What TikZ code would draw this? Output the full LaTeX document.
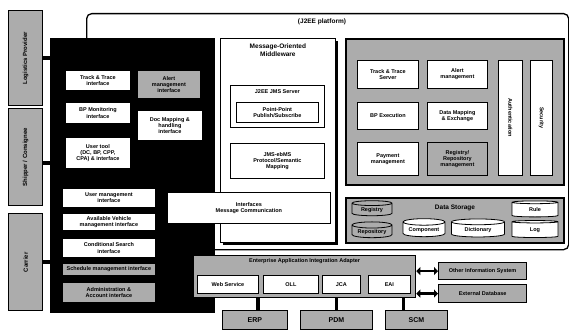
\documentclass[tikz,border=0pt]{standalone}
\usepackage{fontspec}
\setmainfont{Liberation Sans}
\usetikzlibrary{arrows.meta,positioning,calc,shapes.geometric,shadows}

\begin{document}
\begin{tikzpicture}[
    x=1pt, y=-1pt,
    every node/.style={font=\fontsize{5.5}{6.3}\selectfont\bfseries, align=center, inner sep=1pt},
    wbox/.style={draw, thick, fill=white, anchor=north west},
    gbox/.style={draw, thick, fill=gray!65, anchor=north west},
    panel/.style={draw, line width=1.6pt, fill=gray!65, anchor=north west},
    actor/.style={draw, line width=1.4pt, fill=gray!65, anchor=north west, minimum width=34pt},
    dstore/.style={shape=cylinder, shape border rotate=90, aspect=0.2, draw, thick, fill=white},
    stub/.style={line width=4pt},
    stem/.style={line width=3.5pt},
    dblarrow/.style={line width=2.5pt, {Triangle[length=4pt,width=8pt]}-{Triangle[length=4pt,width=8pt]}},
]
  \useasboundingbox (0,0) rectangle (569,331);

  % J2EE platform frame
  \node[draw, line width=1.3pt, rounded corners=5pt, anchor=north west, minimum width=482pt, minimum height=236pt] (platform) at (86,13) {};
  \node[font=\fontsize{6.5}{7.5}\selectfont\bfseries] (platt) at (322,22) {(J2EE platform)};

  % client side (black panel)
  \node[fill=black, anchor=north west, minimum width=165pt, minimum height=275pt, inner sep=0pt] (client) at (50,38) {};
  \node[wbox, minimum width=65pt, minimum height=20pt] (tti) at (65,70) {Track \& Trace\\interface};
  \node[gbox, minimum width=63pt, minimum height=28pt] (ami) at (137,70) {Alert\\management\\interface};
  \node[wbox, minimum width=65pt, minimum height=21pt] (bpm) at (65,102) {BP Monitoring\\interface};
  \node[wbox, minimum width=65pt, minimum height=30pt] (dmi) at (137,110) {Doc Mapping \&\\handling\\interface};
  \node[wbox, minimum width=65pt, minimum height=31pt] (uti) at (65,137) {User tool\\(DC, BP, CPP,\\CPA) \& interface};
  \node[wbox, minimum width=93pt, minimum height=19pt] (umi) at (62,188) {User management\\interface};
  \node[wbox, minimum width=93pt, minimum height=17pt] (avi) at (62,213) {Available Vehicle\\management interface};
  \node[wbox, minimum width=93pt, minimum height=19pt] (csi) at (62,238) {Conditional Search\\interface};
  \node[gbox, minimum width=93pt, minimum height=12pt] (sch) at (62,263) {Schedule management interface};
  \node[gbox, minimum width=93pt, minimum height=20pt] (adm) at (62,282) {Administration \&\\Account interface};

  % actors (left)
  \node[actor, minimum height=95pt] (lsp) at (8,10) {};
  \node[rotate=90, font=\fontsize{6}{7}\selectfont\bfseries] (lspt) at (lsp.center) {Logistics Provider};
  \node[actor, minimum height=97pt] (shp) at (8,108) {};
  \node[rotate=90, font=\fontsize{6}{7}\selectfont\bfseries] (shpt) at (shp.center) {Shipper / Consignee};
  \node[actor, minimum height=97pt] (car) at (8,213) {};
  \node[rotate=90, font=\fontsize{6}{7}\selectfont\bfseries] (cart) at (car.center) {Carrier};
  \draw[stub] (lsp) -- (lsp -| client.west);
  \draw[stub] ([yshift=-6pt]shp.east) -- ([yshift=-6pt]shp.east -| client.west);
  \draw[stub] (car) -- (car -| client.west);

  % message-oriented middleware
  \node[draw, thick, fill=white, anchor=north west, minimum width=115pt, minimum height=204pt,
        drop shadow={shadow xshift=2.5pt, shadow yshift=-2.5pt, fill=black, opacity=1}] (mom) at (220,38) {};
  \node[anchor=north, font=\fontsize{6.5}{7.8}\selectfont\bfseries] (momt) at ([yshift=-5pt]mom.north) {Message-Oriented\\Middleware};
  \node[wbox, minimum width=94pt, minimum height=42pt] (jms) at (230,85) {};
  \node[anchor=north] (jmst) at ([yshift=-3pt]jms.north) {J2EE JMS Server};
  \node[wbox, minimum width=82pt, minimum height=20pt] (pubsub) at (236,102) {Point-Point\\Publish/Subscribe};
  \node[wbox, minimum width=94pt, minimum height=35pt] (ebms) at (230,143) {JMS-ebMS\\Protocol/Semantic\\Mapping};
  \node[wbox, minimum width=163pt, minimum height=31pt] (imc) at (167,192) {Interfaces\\Message Communication};

  % server side
  \node[panel, minimum width=218pt, minimum height=146pt] (server) at (345,38) {};
  \node[wbox, minimum width=61pt, minimum height=28pt] (tts) at (357,60) {Track \& Trace\\Server};
  \node[wbox, minimum width=60pt, minimum height=28pt] (alert) at (427,60) {Alert\\management};
  \node[wbox, minimum width=61pt, minimum height=27pt] (bpe) at (357,102) {BP Execution};
  \node[wbox, minimum width=60pt, minimum height=27pt] (dme) at (427,102) {Data Mapping\\\& Exchange};
  \node[wbox, minimum width=61pt, minimum height=33pt] (pay) at (357,142) {Payment\\management};
  \node[gbox, minimum width=60pt, minimum height=33pt] (regm) at (427,142) {Registry/\\Repository\\management};
  \node[wbox, minimum width=24pt, minimum height=115pt] (auth) at (498,60) {};
  \node[rotate=-90] (autht) at (auth.center) {Authentication};
  \node[wbox, minimum width=22pt, minimum height=115pt] (sec) at (530,60) {};
  \node[rotate=-90] (sect) at (sec.center) {Security};

  % data storage
  \node[panel, minimum width=218pt, minimum height=45pt] (store) at (345,197) {};
  \node[font=\fontsize{6.5}{7.5}\selectfont\bfseries] (storet) at (455,208) {Data Storage};
  \node[dstore, fill=gray!65, minimum width=40pt, minimum height=15pt] (registry) at (372,210) {Registry};
  \node[dstore, fill=gray!65, minimum width=40pt, minimum height=15pt] (repo) at (372,232) {Repository};
  \node[dstore, minimum width=42pt, minimum height=18pt] (comp) at (424,230) {Component};
  \node[dstore, minimum width=53pt, minimum height=18pt] (dict) at (478,230) {Dictionary};
  \node[dstore, minimum width=46pt, minimum height=16pt] (rule) at (535,210) {Rule};
  \node[dstore, minimum width=46pt, minimum height=17pt] (log) at (535,230) {Log};

  % integration layer
  \node[panel, line width=1.3pt, minimum width=222pt, minimum height=42pt] (intg) at (193,255) {};
  \node[anchor=north] (intgt) at ([yshift=-2pt]intg.north) {Enterprise Application Integration Adapter};
  \node[wbox, minimum width=61pt, minimum height=18pt] (ws) at (197,275) {Web Service};
  \node[wbox, minimum width=55pt, minimum height=18pt] (oll) at (263,275) {OLL};
  \node[wbox, minimum width=38pt, minimum height=18pt] (jca) at (322,275) {JCA};
  \node[wbox, minimum width=42pt, minimum height=18pt] (eai) at (368,275) {EAI};

  % back-end systems
  \node[gbox, minimum width=65pt, minimum height=19pt, font=\fontsize{7}{8}\selectfont\bfseries] (erp) at (222,310) {ERP};
  \node[gbox, minimum width=72pt, minimum height=19pt, font=\fontsize{7}{8}\selectfont\bfseries] (pdm) at (300,310) {PDM};
  \node[gbox, minimum width=62pt, minimum height=19pt, font=\fontsize{7}{8}\selectfont\bfseries] (scm) at (385,310) {SCM};
  \draw[stem] ([xshift=3pt]erp.north) -- ([xshift=3pt]erp.north |- intg.south);
  \draw[stem] (pdm.north) -- (pdm.north |- intg.south);
  \draw[stem] ([xshift=-13pt]scm.north) -- ([xshift=-13pt]scm.north |- intg.south);

  % external systems
  \node[gbox, line width=1.2pt, minimum width=88pt, minimum height=17pt] (ext1) at (438,262) {Other Information System};
  \node[gbox, line width=1.2pt, minimum width=88pt, minimum height=18pt] (ext2) at (438,284) {External Database};
  \draw[dblarrow] (ext1.west -| intg.east) -- (ext1.west);
  \draw[dblarrow] (ext2.west -| intg.east) -- (ext2.west);
\end{tikzpicture}
\end{document}
